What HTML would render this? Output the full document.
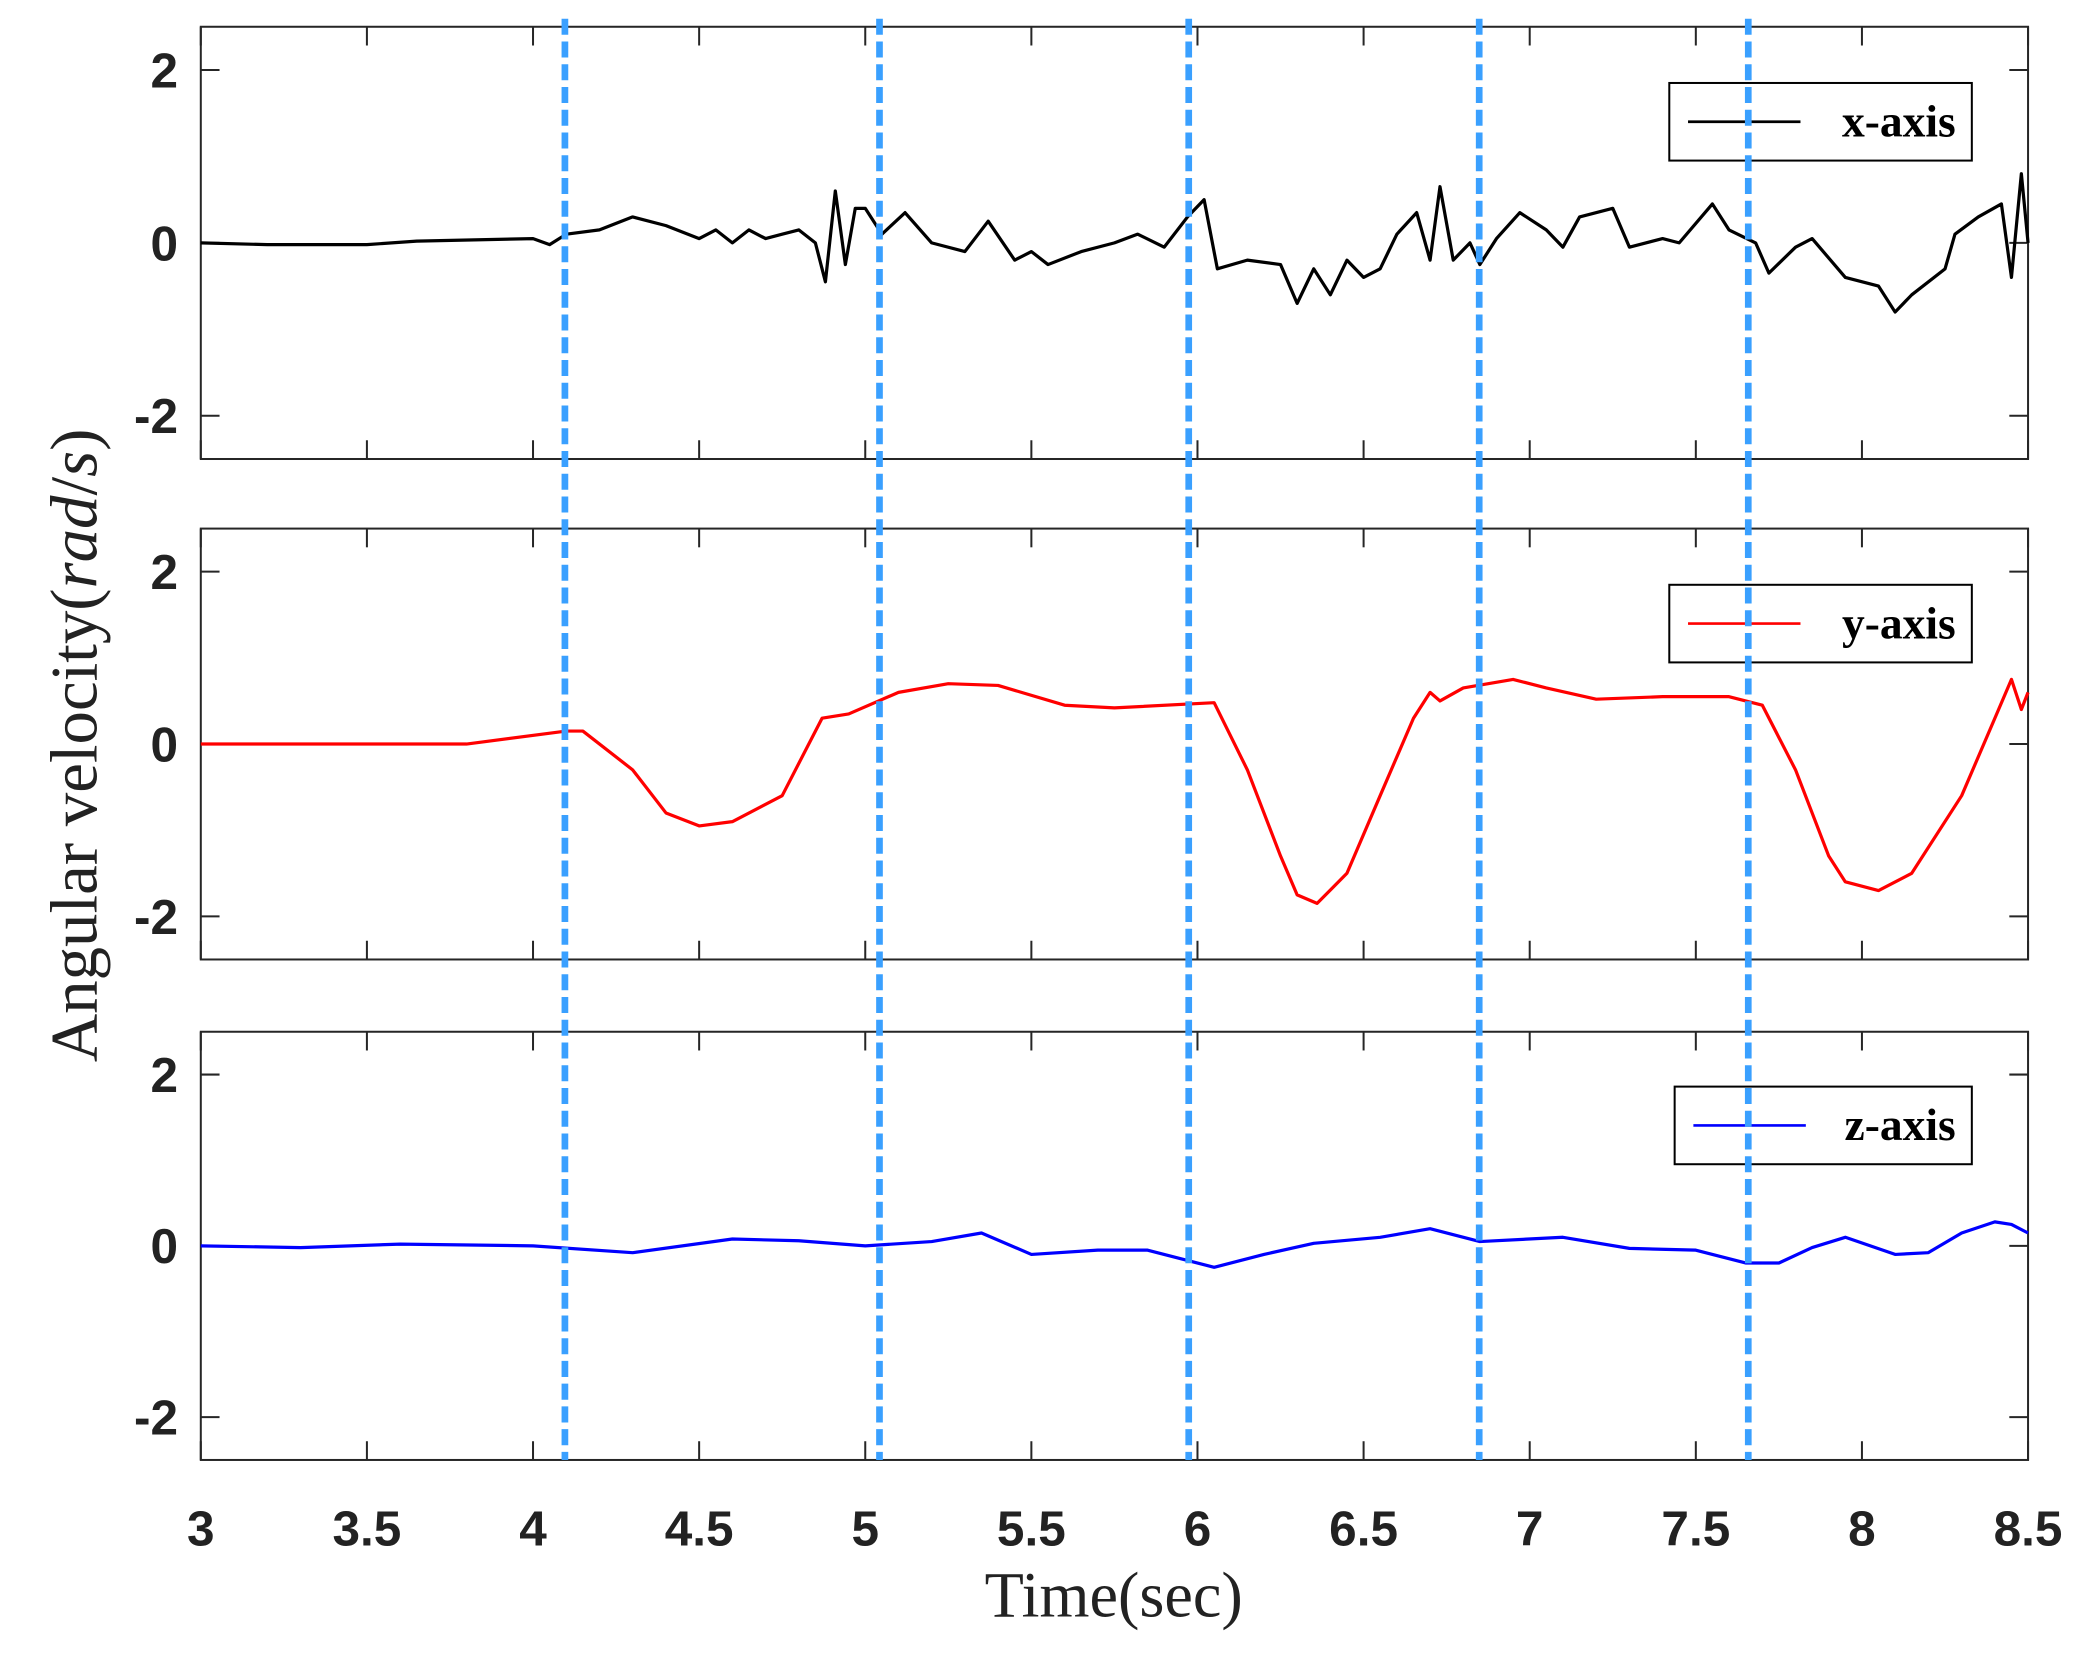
<!DOCTYPE html>
<html><head><meta charset="utf-8">
<style>html,body{margin:0;padding:0;background:#fff;}svg{display:block;}</style>
</head><body>
<svg id="s" width="2099" height="1654" viewBox="0 0 1568 1236" preserveAspectRatio="none" xmlns="http://www.w3.org/2000/svg">
<rect width="1568" height="1236" fill="#fff"/>
<g id="g"></g>
</svg>
<script>
const NS="http://www.w3.org/2000/svg";
const g=document.getElementById('g');
function el(t,a,txt){const e=document.createElementNS(NS,t);for(const k in a)e.setAttribute(k,a[k]);if(txt!==undefined)e.textContent=txt;g.appendChild(e);return e;}
const L=150,R=1515;
const panels=[[20,343],[395,717],[771,1091]];
const X=t=>L+(t-3)*(R-L)/5.5;
const black=[[3,0],[3.2,-0.02],[3.5,-0.02],[3.65,0.02],[4.0,0.05],[4.05,-0.02],[4.1,0.1],[4.2,0.15],[4.3,0.3],[4.4,0.2],[4.5,0.05],[4.55,0.15],[4.6,0.0],[4.65,0.15],[4.7,0.05],[4.75,0.1],[4.8,0.15],[4.85,0.0],[4.88,-0.45],[4.91,0.6],[4.94,-0.25],[4.97,0.4],[5.0,0.4],[5.05,0.1],[5.12,0.35],[5.2,0.0],[5.3,-0.1],[5.37,0.25],[5.45,-0.2],[5.5,-0.1],[5.55,-0.25],[5.65,-0.1],[5.75,0.0],[5.82,0.1],[5.9,-0.05],[5.97,0.3],[6.02,0.5],[6.06,-0.3],[6.15,-0.2],[6.25,-0.25],[6.3,-0.7],[6.35,-0.3],[6.4,-0.6],[6.45,-0.2],[6.5,-0.4],[6.55,-0.3],[6.6,0.1],[6.66,0.35],[6.7,-0.2],[6.73,0.65],[6.77,-0.2],[6.82,0.0],[6.85,-0.25],[6.9,0.05],[6.97,0.35],[7.05,0.15],[7.1,-0.05],[7.15,0.3],[7.25,0.4],[7.3,-0.05],[7.4,0.05],[7.45,0.0],[7.55,0.45],[7.6,0.15],[7.68,0.0],[7.72,-0.35],[7.8,-0.05],[7.85,0.05],[7.95,-0.4],[8.05,-0.5],[8.1,-0.8],[8.15,-0.6],[8.25,-0.3],[8.28,0.1],[8.35,0.3],[8.42,0.45],[8.45,-0.4],[8.48,0.8],[8.5,0]];
const red=[[3,0],[3.8,0],[4.1,0.15],[4.15,0.15],[4.3,-0.3],[4.4,-0.8],[4.5,-0.95],[4.6,-0.9],[4.75,-0.6],[4.87,0.3],[4.95,0.35],[5.1,0.6],[5.25,0.7],[5.4,0.68],[5.6,0.45],[5.75,0.42],[6.05,0.48],[6.15,-0.3],[6.25,-1.3],[6.3,-1.75],[6.36,-1.85],[6.45,-1.5],[6.55,-0.6],[6.65,0.3],[6.7,0.6],[6.73,0.5],[6.8,0.65],[6.95,0.75],[7.05,0.65],[7.2,0.52],[7.4,0.55],[7.6,0.55],[7.7,0.45],[7.8,-0.3],[7.9,-1.3],[7.95,-1.6],[8.05,-1.7],[8.15,-1.5],[8.3,-0.6],[8.4,0.3],[8.45,0.75],[8.48,0.4],[8.5,0.6]];
const blue=[[3,0],[3.3,-0.02],[3.6,0.02],[4.0,0.0],[4.3,-0.08],[4.6,0.08],[4.8,0.06],[5.0,0.0],[5.2,0.05],[5.35,0.15],[5.5,-0.1],[5.7,-0.05],[5.85,-0.05],[6.05,-0.25],[6.2,-0.1],[6.35,0.03],[6.55,0.1],[6.7,0.2],[6.85,0.05],[7.1,0.1],[7.3,-0.03],[7.5,-0.05],[7.65,-0.2],[7.75,-0.2],[7.85,-0.02],[7.95,0.1],[8.1,-0.1],[8.2,-0.08],[8.3,0.15],[8.4,0.28],[8.45,0.25],[8.5,0.15]];
const series=[[black,'#000','x-axis',1247,62,226],[red,'#f00','y-axis',1247,437,226],[blue,'#00f','z-axis',1251,812,222]];
panels.forEach(([T,B],i)=>{
  const Y=v=>T+(2.5-v)*(B-T)/5;
  el('rect',{x:L,y:T,width:R-L,height:B-T,fill:'none',stroke:'#262626','stroke-width':1.5});
  for(let t=3;t<=8.51;t+=0.5){const x=X(t);el('line',{x1:x,y1:B,x2:x,y2:B-14,stroke:'#262626','stroke-width':1.5});el('line',{x1:x,y1:T,x2:x,y2:T+14,stroke:'#262626','stroke-width':1.5});}
  [-2,0,2].forEach(v=>{const y=Y(v);el('line',{x1:L,y1:y,x2:L+14,y2:y,stroke:'#262626','stroke-width':1.5});el('line',{x1:R,y1:y,x2:R-14,y2:y,stroke:'#262626','stroke-width':1.5});
    el('text',{x:133,y:y+13,'text-anchor':'end','font-family':'Liberation Sans, Arial, sans-serif','font-weight':'bold','font-size':37,fill:'#222'},String(v));});
  const [d,c,lab,lx,ly,lw]=series[i];
  el('polyline',{points:d.map(p=>X(p[0]).toFixed(1)+','+Y(p[1]).toFixed(1)).join(' '),fill:'none',stroke:c,'stroke-width':2.4,'stroke-linejoin':'round'});
  el('rect',{x:lx,y:ly,width:lw,height:58,fill:'#fff',stroke:'#000','stroke-width':1.5});
  el('line',{x1:lx+14,y1:ly+29,x2:lx+98,y2:ly+29,stroke:c,'stroke-width':2});
  el('text',{x:lx+lw-12,y:ly+40,'text-anchor':'end','font-family':'Liberation Serif, serif','font-weight':'bold','font-size':34,fill:'#000'},lab);
});
[422,657,888,1105,1306].forEach(x=>el('line',{x1:x,y1:14,x2:x,y2:1091,stroke:'#3aa0ff','stroke-width':5,'stroke-dasharray':'12,5'}));
for(let t=3;t<=8.51;t+=0.5){el('text',{x:X(t),y:1155,'text-anchor':'middle','font-family':'Liberation Sans, Arial, sans-serif','font-weight':'bold','font-size':37,fill:'#222'},String(Math.round(t*10)/10));}
el('text',{x:832,y:1208,'text-anchor':'middle','font-family':'Liberation Serif, serif','font-size':48,fill:'#222'},'Time(sec)');
const yl=el('text',{x:0,y:0,'text-anchor':'middle','font-family':'Liberation Serif, serif','font-size':50,fill:'#222',transform:'translate(72,557) rotate(-90)'});
yl.innerHTML='Angular velocity(<tspan font-style="italic">rad</tspan>/<tspan font-style="italic">s</tspan>)';
</script>
</body></html>
